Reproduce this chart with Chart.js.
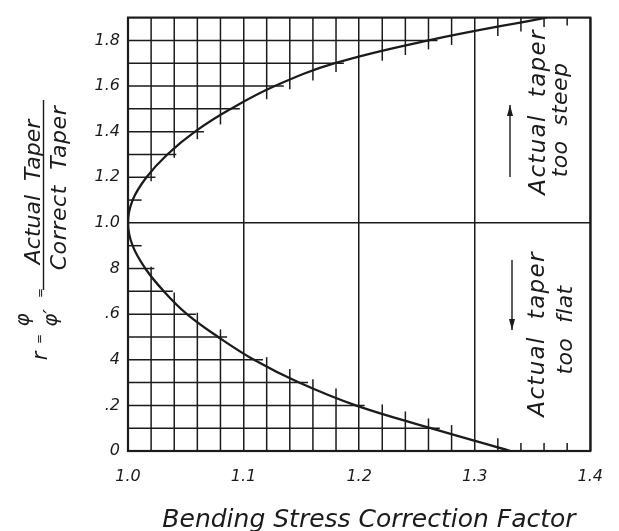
<!DOCTYPE html>
<html>
<head>
<meta charset="utf-8">
<script src="https://cdn.jsdelivr.net/npm/chart.js@4.4.0/dist/chart.umd.min.js"></script>
<style>
  html, body { margin: 0; padding: 0; background: #fff; }
  #wrap { width: 619px; height: 531px; }
</style>
</head>
<body>
<div id="wrap"><canvas id="chart"></canvas></div>
<script>
// curve, one point for every 0.1 of r
var curveR = [0, 0.1, 0.2, 0.3, 0.4, 0.5, 0.6, 0.7, 0.8, 0.9, 1.0,
              1.1, 1.2, 1.3, 1.4, 1.5, 1.6, 1.7, 1.8, 1.9];
var curveFactor = [1.331, 1.262, 1.197, 1.148, 1.109, 1.078, 1.051, 1.031, 1.015, 1.004, 1.000,
                   1.004, 1.016, 1.034, 1.058, 1.089, 1.127, 1.179, 1.260, 1.362];

var xTicks = [1.0, 1.1, 1.2, 1.3, 1.4];
var xTickLabels = ['1.0', '1.1', '1.2', '1.3', '1.4'];
var yTicks = [0, 0.2, 0.4, 0.6, 0.8, 1.0, 1.2, 1.4, 1.6, 1.8];
var yTickLabels = ['0', '.2', '4', '.6', '8', '1.0', '1.2', '1.4', '1.6', '1.8'];

var ink = '#1b1b1b';
var hand = '"DejaVu Sans", sans-serif';

function labelFor(vals, labels, v) {
  for (var i = 0; i < vals.length; i++) {
    if (Math.abs(vals[i] - v) < 1e-6) return labels[i];
  }
  return '';
}

function seg(ctx, x1, y1, x2, y2) {
  ctx.beginPath();
  ctx.moveTo(x1, y1);
  ctx.lineTo(x2, y2);
  ctx.stroke();
}

// the fine 0.02 x 0.1 grid only fills the area left of the curve
var fineGrid = {
  id: 'fineGrid',
  beforeDatasetsDraw: function(chart) {
    var ctx = chart.ctx, xs = chart.scales.x, ys = chart.scales.y, a = chart.chartArea;
    var over = 9;
    var pts = curveR.map(function(r, i) {
      return { x: xs.getPixelForValue(curveFactor[i]), y: ys.getPixelForValue(r) };
    });
    var mid = curveR.indexOf(1.0);
    var last = curveFactor.length - 1;
    ctx.save();
    ctx.strokeStyle = ink;
    ctx.lineWidth = 1.5;

    for (var i = 1; i < last; i++) {
      if (i === mid) continue;
      seg(ctx, a.left, pts[i].y, pts[i].x + over, pts[i].y);
    }

    for (var k = 1; k < 20; k++) {
      if (k % 5 === 0) continue;
      var v = 1 + k * 0.02;
      var px = xs.getPixelForValue(v);
      // lower branch
      if (v > curveFactor[0]) {
        seg(ctx, px, a.bottom, px, a.bottom - 8);
      } else {
        for (var j = 0; j < mid; j++) {
          if (curveFactor[j] >= v && v >= curveFactor[j + 1]) {
            var t = (curveFactor[j] - v) / (curveFactor[j] - curveFactor[j + 1]);
            var py = pts[j].y + t * (pts[j + 1].y - pts[j].y);
            seg(ctx, px, a.bottom, px, py - over);
            break;
          }
        }
      }
      // upper branch
      if (v > curveFactor[last]) {
        seg(ctx, px, a.top, px, a.top + 8);
      } else {
        for (var m = mid; m < last; m++) {
          if (curveFactor[m] <= v && v <= curveFactor[m + 1]) {
            var t2 = (v - curveFactor[m]) / (curveFactor[m + 1] - curveFactor[m]);
            var py2 = pts[m].y + t2 * (pts[m + 1].y - pts[m].y);
            seg(ctx, px, a.top, px, py2 + over);
            break;
          }
        }
      }
    }

    ctx.lineWidth = 2.2;
    ctx.strokeRect(a.left, a.top, a.right - a.left, a.bottom - a.top);
    ctx.restore();
  }
};

function vtext(ctx, str, x, y, font, spacing) {
  ctx.save();
  ctx.translate(x, y);
  ctx.rotate(-Math.PI / 2);
  ctx.font = font;
  ctx.letterSpacing = (spacing || 0) + 'px';
  ctx.textAlign = 'center';
  ctx.textBaseline = 'alphabetic';
  ctx.fillText(str, 0, 0);
  ctx.restore();
}

function arrow(ctx, x, y1, y2) {
  var dir = y2 < y1 ? -1 : 1;
  seg(ctx, x, y1, x, y2);
  ctx.beginPath();
  ctx.moveTo(x, y2);
  ctx.lineTo(x - 3, y2 - dir * 11);
  ctx.lineTo(x + 3, y2 - dir * 11);
  ctx.closePath();
  ctx.fill();
}

var notes = {
  id: 'notes',
  afterDraw: function(chart) {
    var ctx = chart.ctx;
    ctx.save();
    ctx.fillStyle = ink;
    ctx.strokeStyle = ink;
    ctx.lineWidth = 1.4;

    // y axis title: r = phi / phi' = Actual Taper / Correct Taper
    vtext(ctx, 'Actual  Taper', 40, 192, 'italic 22px ' + hand);
    seg(ctx, 43.5, 100, 43.5, 290);
    vtext(ctx, 'Correct  Taper', 66, 188, 'italic 22px ' + hand, 0.6);
    vtext(ctx, '=', 44, 293, '12px ' + hand);
    vtext(ctx, '\u03c6', 29, 320, 'italic 20px ' + hand);
    vtext(ctx, '\u03c6\u2032', 57, 318, 'italic 20px ' + hand);
    vtext(ctx, '=', 43, 339, '12px ' + hand);
    vtext(ctx, 'r', 47, 356, 'italic 21px ' + hand);

    // right side notes
    vtext(ctx, 'Actual  taper', 545, 112, 'italic 23px ' + hand, 1.3);
    vtext(ctx, 'too  steep', 567, 120, 'italic 22px ' + hand, 0.4);
    arrow(ctx, 510, 177, 105);
    vtext(ctx, 'Actual  taper', 544, 334, 'italic 23px ' + hand, 1.3);
    vtext(ctx, 'too  flat', 572, 330, 'italic 22px ' + hand, 0.4);
    arrow(ctx, 512, 260, 330);

    // x axis title
    ctx.font = 'italic 25px ' + hand;
    ctx.textAlign = 'center';
    ctx.textBaseline = 'alphabetic';
    ctx.fillText('Bending Stress Correction Factor', 369, 527);
    ctx.restore();
  }
};

var curveData = curveR.map(function(r, i) { return { x: curveFactor[i], y: r }; });

new Chart(document.getElementById('chart'), {
  type: 'scatter',
  data: {
    datasets: [{
      data: curveData,
      showLine: true,
      borderColor: ink,
      borderWidth: 2.3,
      pointRadius: 0,
      tension: 0.4,
      fill: false
    }]
  },
  options: {
    responsive: true,
    maintainAspectRatio: false,
    animation: false,
    layout: { padding: { top: 11, right: 24, bottom: 0, left: 0 } },
    plugins: { legend: { display: false }, tooltip: { enabled: false } },
    scales: {
      x: {
        type: 'linear',
        min: 1.0,
        max: 1.4,
        afterBuildTicks: function(s) { s.ticks = xTicks.map(function(v) { return { value: v }; }); },
        afterFit: function(s) { s.height = 80; },
        border: { display: false },
        grid: { color: ink, lineWidth: 1.5, drawTicks: false },
        ticks: {
          color: ink,
          padding: 16,
          font: { family: hand, size: 16, style: 'italic' },
          callback: function(v) { return labelFor(xTicks, xTickLabels, v); }
        }
      },
      y: {
        type: 'linear',
        min: 0,
        max: 1.9,
        afterBuildTicks: function(s) { s.ticks = yTicks.map(function(v) { return { value: v }; }); },
        afterFit: function(s) { s.width = 128; },
        border: { display: false },
        grid: {
          drawTicks: false,
          lineWidth: 1.5,
          color: function(c) { return c.tick && Math.abs(c.tick.value - 1) < 1e-6 ? ink : 'rgba(0,0,0,0)'; }
        },
        ticks: {
          color: ink,
          padding: 8,
          font: { family: hand, size: 16, style: 'italic' },
          callback: function(v) { return labelFor(yTicks, yTickLabels, v); }
        }
      }
    }
  },
  plugins: [fineGrid, notes]
});
</script>
</body>
</html>
